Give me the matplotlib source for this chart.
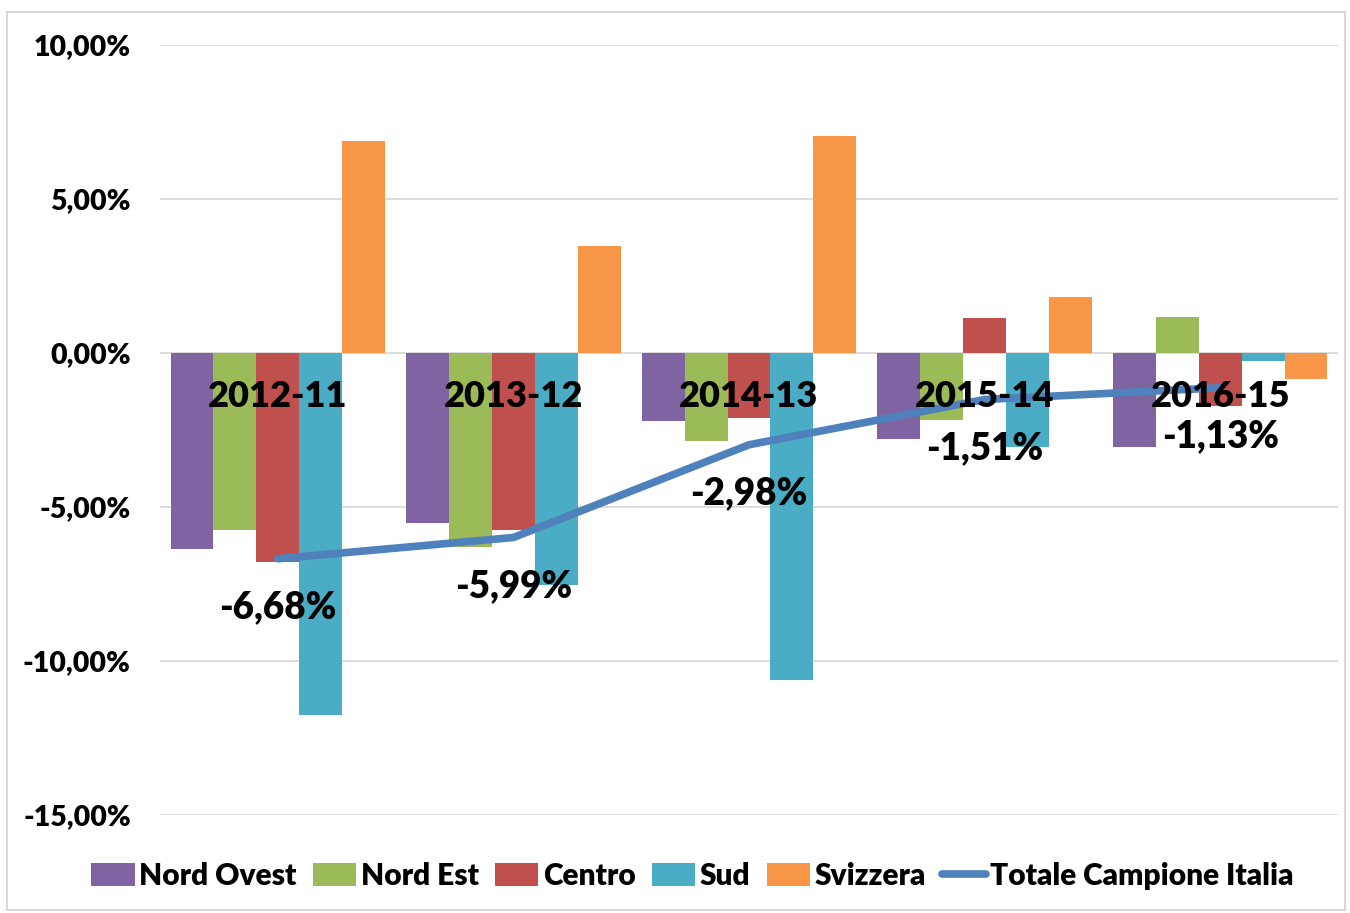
import matplotlib
matplotlib.use("Agg")
import matplotlib.pyplot as plt
import numpy as np
from matplotlib.patches import Rectangle
from matplotlib.ticker import FuncFormatter

plt.rcParams["font.family"] = ["Lato", "DejaVu Sans"]
plt.rcParams["font.weight"] = 800

categories = ["2012-11", "2013-12", "2014-13", "2015-14", "2016-15"]
series_names = ["Nord Ovest", "Nord Est", "Centro", "Sud", "Svizzera"]
nord_ovest = [-6.36, -5.52, -2.21, -2.79, -3.05]
nord_est = [-5.75, -6.30, -2.86, -2.18, 1.17]
centro = [-6.79, -5.75, -2.11, 1.14, -1.72]
sud = [-11.75, -7.53, -10.62, -3.05, -0.26]
svizzera = [6.88, 3.47, 7.05, 1.82, -0.84]
totale = [-6.68, -5.99, -2.98, -1.51, -1.13]
totale_name = "Totale Campione Italia"

colors = ["#8064A2", "#9BBB59", "#C0504D", "#4BACC6", "#F79646"]
line_color = "#4F81BD"
W = 800


def fmt_pct(v):
    return f"{v:.2f}".replace(".", ",") + "%"


fig = plt.figure(figsize=(13.5, 9.13), dpi=100)
ax = fig.add_axes([160 / 1350, 1 - 815 / 913, 1178 / 1350, 770 / 913])

# outer chart border
fig.patches.append(Rectangle((7 / 1350, 3 / 913), 1338 / 1350, 898 / 913,
                             transform=fig.transFigure, fill=False,
                             edgecolor="#D9D9D9", linewidth=1.5))

x = np.arange(len(categories))
bar_w = 0.182
all_series = [nord_ovest, nord_est, centro, sud, svizzera]
for i, (vals, name, col) in enumerate(zip(all_series, series_names, colors)):
    offset = (i - 2) * bar_w
    ax.bar(x + offset, vals, width=bar_w, color=col, label=name, zorder=2)

ax.plot(x, totale, color=line_color, linewidth=5.5, solid_capstyle="round",
        label=totale_name, zorder=3)
for xi, v in zip(x, totale):
    ax.annotate(fmt_pct(v), (xi, v), xytext=(0, -35), textcoords="offset points",
                ha="center", va="center", fontsize=26.5, fontweight=W, zorder=5)

# category labels sit just under the zero line, on top of the bars
for xi, cat in zip(x, categories):
    ax.annotate(cat, (xi, 0), xytext=(0, -31), textcoords="offset points",
                ha="center", va="center", fontsize=26, fontweight=W, zorder=5)

ax.set_xlim(-0.5, len(categories) - 0.5)
ax.set_ylim(-15, 10)
ax.set_yticks([10, 5, 0, -5, -10, -15])
ax.yaxis.set_major_formatter(FuncFormatter(lambda v, p: fmt_pct(v)))
ax.tick_params(axis="y", length=0, pad=21, labelsize=20.5)
for lbl in ax.get_yticklabels():
    lbl.set_fontweight(W)
ax.set_xticks([])
ax.grid(axis="y", color="#D9D9D9", linewidth=1.3, zorder=0)
ax.set_axisbelow(True)
for s in ax.spines.values():
    s.set_visible(False)

handles, labels = ax.get_legend_handles_labels()
handles = handles[1:] + handles[:1]
labels = labels[1:] + labels[:1]
fig.legend(handles, labels, loc="center", bbox_to_anchor=(0.513, 1 - 876 / 913),
           ncol=6, frameon=False, prop={"size": 21.5, "weight": W},
           handlelength=1.45, handleheight=0.8,
           handletextpad=0.15, columnspacing=0.55)

fig.savefig("out.png", dpi=100, facecolor="white")
